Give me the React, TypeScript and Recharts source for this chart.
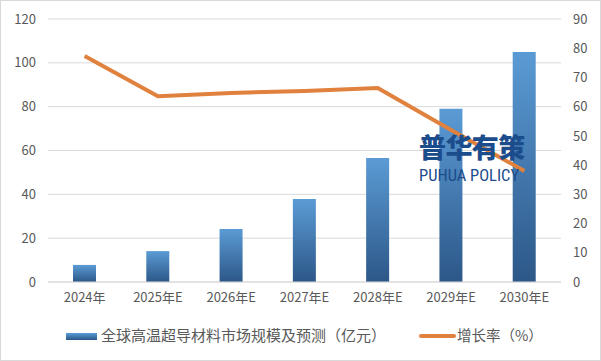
import React from 'react';
import { ComposedChart, Bar, Line, XAxis, YAxis, CartesianGrid, Legend } from 'recharts';

const years = ['2024年', '2025年E', '2026年E', '2027年E', '2028年E', '2029年E', '2030年E'];
const marketSize = [7.8, 14.1, 24.2, 37.9, 56.6, 79, 105];
const growthRate = [77.3, 63.6, 64.7, 65.4, 66.4, 52, 38];
const leftTicks = [0, 20, 40, 60, 80, 100, 120];
const rightTicks = [0, 10, 20, 30, 40, 50, 60, 70, 80, 90];

const barName = '全球高温超导材料市场规模及预测（亿元）';
const lineName = '增长率（%）';

const data = years.map((year, i) => ({ year, size: marketSize[i], rate: growthRate[i] }));

const font = '"Noto Sans CJK SC", "Noto Sans", sans-serif';
const tickStyle = { fill: '#595959', fontSize: 13, fontFamily: font };

const renderLegend = () => (
    <div style={{ position: 'relative', height: 20, fontFamily: font, color: '#595959' }}>
        <svg width={601} height={20} style={{ position: 'absolute', left: 0, top: 0 }}>
            <defs>
                <linearGradient id="legendGrad" x1="0" y1="0" x2="0" y2="1">
                    <stop offset="0%" stopColor="#5b9bd5" />
                    <stop offset="100%" stopColor="#2c5788" />
                </linearGradient>
            </defs>
            <rect x={66} y={7} width={31} height={7} fill="url(#legendGrad)" />
            <line x1={421} y1={10} x2={454} y2={10} stroke="#e0823e" strokeWidth={4} strokeLinecap="round" />
        </svg>
        <span style={{ position: 'absolute', left: 101, top: -2, fontSize: 15, whiteSpace: 'nowrap' }}>{barName}</span>
        <span style={{ position: 'absolute', left: 457, top: -2, fontSize: 14.5, whiteSpace: 'nowrap' }}>{lineName}</span>
    </div>
);

export default function App() {
    return (
        <div style={{ position: 'fixed', left: 0, top: 0, width: 601, height: 361, background: '#fff' }}>
            <ComposedChart width={601} height={361} data={data} margin={{ top: 19, right: 0, left: 0, bottom: 15 }}>
                <defs>
                    <linearGradient id="barGrad" x1="0" y1="0" x2="0" y2="1">
                        <stop offset="0%" stopColor="#5b9bd5" />
                        <stop offset="100%" stopColor="#2c5788" />
                    </linearGradient>
                </defs>
                <CartesianGrid vertical={false} stroke="#d9d9d9" yAxisId="left" />
                <XAxis
                    dataKey="year"
                    height={44}
                    tickLine={false}
                    axisLine={{ stroke: '#d9d9d9' }}
                    tickSize={0}
                    tickMargin={11}
                    tick={tickStyle}
                    interval={0}
                />
                <YAxis
                    yAxisId="left"
                    width={48}
                    domain={[0, 120]}
                    ticks={leftTicks}
                    tickLine={false}
                    axisLine={false}
                    tickSize={0}
                    tickMargin={12}
                    tick={tickStyle}
                />
                <YAxis
                    yAxisId="right"
                    orientation="right"
                    width={40}
                    domain={[0, 90]}
                    ticks={rightTicks}
                    tickLine={false}
                    axisLine={false}
                    tickSize={0}
                    tickMargin={12}
                    tick={{ ...tickStyle, textAnchor: 'start' }}
                />
                <Legend verticalAlign="bottom" height={20} content={renderLegend} />
                <Bar yAxisId="left" dataKey="size" name={barName} barSize={23} fill="url(#barGrad)" isAnimationActive={false} />
                <Line
                    yAxisId="right"
                    dataKey="rate"
                    name={lineName}
                    type="linear"
                    stroke="#e0823e"
                    strokeWidth={4}
                    dot={false}
                    activeDot={false}
                    isAnimationActive={false}
                />
            </ComposedChart>
            <div style={{ position: 'absolute', left: 419, top: 130, color: '#1b4c8c', fontFamily: font, pointerEvents: 'none' }}>
                <div style={{ fontSize: 27, fontWeight: 900, letterSpacing: -0.6, lineHeight: '34px' }}>普华有策</div>
                <div style={{ fontSize: 16.5, fontFamily: '"Liberation Sans Narrow", "Roboto Condensed", "Liberation Sans", sans-serif', lineHeight: '20px', marginTop: 2, whiteSpace: 'nowrap' }}>PUHUA POLICY</div>
            </div>
            <div style={{ position: 'absolute', inset: 0, border: '1px solid #d9d9d9', pointerEvents: 'none' }} />
        </div>
    );
}
